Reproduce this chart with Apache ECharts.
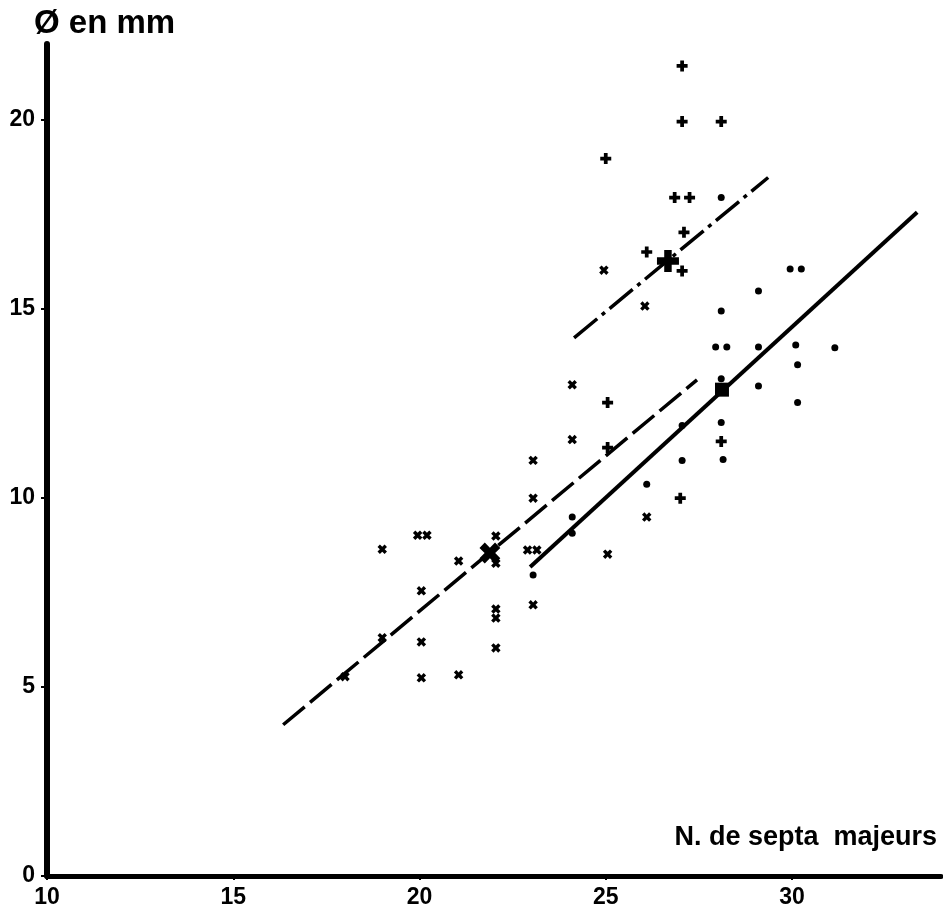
<!DOCTYPE html>
<html>
<head>
<meta charset="utf-8">
<script src="https://cdn.jsdelivr.net/npm/echarts@6/dist/echarts.min.js"></script>
<style>
html,body{margin:0;padding:0;background:#fff;}
#chart{width:943px;height:909px;}
</style>
</head>
<body>
<div id="chart"></div>
<script>
// Septa count (x) vs diameter in mm (y)
// Group "×"
const crossSepta = [24.95, 26.05, 24.1, 24.1, 23.05, 23.05, 26.1, 25.05, 19.95, 20.2, 19.0, 22.05, 22.05, 21.05, 22.9, 23.15, 20.05, 22.05, 22.05, 23.05, 19.0, 20.05, 22.05, 18.0, 20.05, 21.05];
const crossDiam  = [16.02, 15.07, 12.99, 11.54, 10.99, 9.99, 9.49, 8.51, 9.01, 9.01, 8.64, 8.99, 8.27, 8.33, 8.62, 8.62, 7.54, 7.06, 6.82, 7.17, 6.30, 6.19, 6.03, 5.27, 5.24, 5.32];
// Group "+"
const plusSepta = [27.05, 27.05, 28.1, 25.0, 26.85, 27.25, 27.1, 26.1, 27.05, 25.05, 25.05, 28.1, 27.0];
const plusDiam  = [21.42, 19.95, 19.95, 18.97, 17.94, 17.94, 17.02, 16.5, 16.0, 12.52, 11.33, 11.49, 9.99];
// Group "•"
const dotSepta = [28.1, 29.1, 29.95, 30.25, 28.1, 27.95, 28.25, 29.1, 30.1, 31.15, 30.15, 28.1, 29.1, 30.15, 27.05, 28.1, 27.05, 28.15, 26.1, 24.1, 24.1, 23.05];
const dotDiam  = [17.94, 15.47, 16.05, 16.05, 14.94, 13.99, 13.99, 13.99, 14.04, 13.97, 13.52, 13.15, 12.96, 12.52, 11.91, 11.99, 10.99, 11.01, 10.36, 9.49, 9.06, 7.96];
// Group means
const meanCross = [21.89, 8.54];
const meanPlus  = [26.67, 16.26];
const meanDot   = [28.12, 12.86];
// Regression lines (end points)
const lineCross = [[16.34, 4.0], [27.45, 13.12]];
const linePlus  = [[24.15, 14.23], [29.36, 18.47]];
const lineDot   = [[22.97, 8.17], [33.36, 17.55]];
// Axis
const xTicks = [10, 15, 20, 25, 30];
const yTicks = [0, 5, 10, 15, 20];
const yTitle = 'Ø en mm';
const xTitle = 'N. de septa  majeurs';

function zip(a, b) { return a.map(function (v, i) { return [v, b[i]]; }); }

const plusPath = 'path://M3.3,0H6.7V3.3H10V6.7H6.7V10H3.3V6.7H0V3.3H3.3Z';
const ink = '#000';
const solid = { color: ink, opacity: 1 };

const chart = echarts.init(document.getElementById('chart'));
chart.setOption({
  animation: false,
  backgroundColor: '#fff',
  grid: { left: 47, right: 2, top: 44, bottom: 30, containLabel: false },
  xAxis: {
    type: 'value', min: 10, max: 34, interval: 5,
    axisLine: { show: true, onZero: false, lineStyle: { color: ink, width: 5 } },
    axisTick: { show: true, inside: false, length: 4, lineStyle: { color: ink, width: 2 } },
    axisLabel: {
      margin: 10, color: ink, fontFamily: 'Liberation Sans, Arial, sans-serif', fontWeight: 'bold', fontSize: 23,
      showMaxLabel: false,
      formatter: function (v) { return xTicks.indexOf(v) >= 0 ? String(v) : ''; }
    },
    splitLine: { show: false }
  },
  yAxis: {
    type: 'value', min: 0, max: 22, interval: 5,
    axisLine: { show: true, onZero: false, lineStyle: { color: ink, width: 6 } },
    axisTick: { show: true, inside: false, length: 6, lineStyle: { color: ink, width: 2 } },
    axisLabel: {
      margin: 12, color: ink, fontFamily: 'Liberation Sans, Arial, sans-serif', fontWeight: 'bold', fontSize: 23,
      showMaxLabel: false,
      formatter: function (v) { return yTicks.indexOf(v) >= 0 ? String(v) : ''; }
    },
    splitLine: { show: false }
  },
  graphic: [
    { type: 'text', left: 34, top: 7, style: { text: yTitle, fill: ink, font: 'bold 33px "Liberation Sans", Arial, sans-serif' } },
    { type: 'text', right: 6, top: 824, style: { text: xTitle, fill: ink, font: 'bold 27px "Liberation Sans", Arial, sans-serif' } }
  ],
  series: [
    { type: 'line', data: lineCross, showSymbol: false, z: 2,
      lineStyle: { color: ink, width: 3.5, type: [28, 7] } },
    { type: 'line', data: linePlus, showSymbol: false, z: 2,
      lineStyle: { color: ink, width: 3.5, type: [30, 6, 4, 6] } },
    { type: 'line', data: lineDot, showSymbol: false, z: 2,
      lineStyle: { color: ink, width: 4, type: 'solid' } },
    { type: 'scatter', data: zip(crossSepta, crossDiam), symbol: plusPath, symbolRotate: 45, symbolSize: 10, z: 3,
      itemStyle: solid },
    { type: 'scatter', data: zip(plusSepta, plusDiam), symbol: plusPath, symbolSize: 11, z: 3,
      itemStyle: solid },
    { type: 'scatter', data: zip(dotSepta, dotDiam), symbol: 'circle', symbolSize: 7, z: 3,
      itemStyle: solid },
    { type: 'scatter', data: [meanCross], symbol: plusPath, symbolRotate: 45, symbolSize: 22, z: 4,
      itemStyle: solid },
    { type: 'scatter', data: [meanPlus], symbol: plusPath, symbolSize: 22, z: 4,
      itemStyle: solid },
    { type: 'scatter', data: [meanDot], symbol: 'rect', symbolSize: 14, z: 4,
      itemStyle: solid }
  ]
});
</script>
</body>
</html>
